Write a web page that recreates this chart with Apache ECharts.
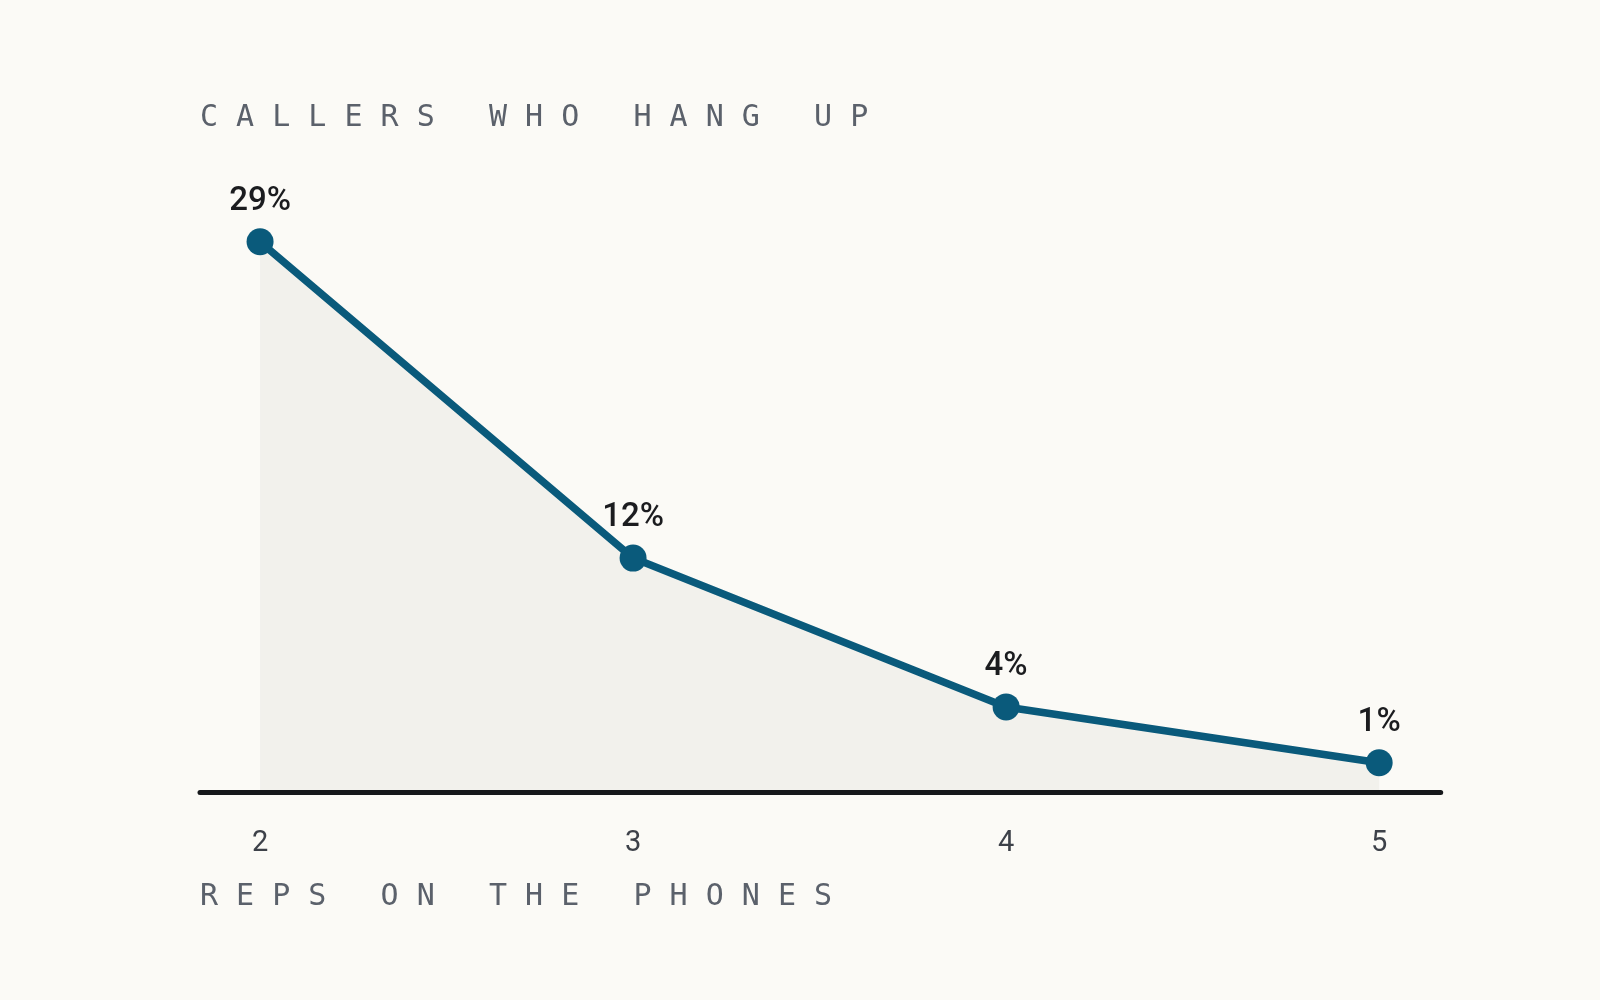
<!DOCTYPE html>
<html>
<head>
<meta charset="utf-8">
<script src="https://cdn.jsdelivr.net/npm/echarts@6/dist/echarts.min.js"></script>
<style>
html,body{margin:0;padding:0;background:#fbfaf6;}
#chart{width:1600px;height:1000px;}
</style>
</head>
<body>
<div id="chart"></div>
<script>
const reps = [2, 3, 4, 5];
const hangUpPct = [29, 12, 4, 1];
const xTickLabels = [2, 3, 4, 5];
const yTitle = 'CALLERS WHO HANG UP';
const xTitle = 'REPS ON THE PHONES';

function spaced(s) { return s.split('').join(' '); }

const chart = echarts.init(document.getElementById('chart'), null, {renderer: 'canvas'});
const lineColor = '#0a5a7b';

chart.setOption({
  backgroundColor: '#fbfaf6',
  animation: false,
  grid: {left: 200, right: 159.3, top: 223.2, bottom: 207.5},
  xAxis: {
    type: 'value',
    min: 1.839,
    max: 5.165,
    z: 3,
    splitLine: {show: false},
    axisTick: {show: false},
    axisLine: {show: true, onZero: false, lineStyle: {color: '#16181b', width: 5}},
    axisLabel: {
      customValues: xTickLabels,
      margin: 37,
      fontSize: 29,
      fontFamily: 'Roboto',
      color: '#3d4149'
    }
  },
  yAxis: {
    type: 'value',
    min: -0.6,
    max: 30,
    show: false,
    splitLine: {show: false}
  },
  graphic: [
    {
      type: 'text', left: 200, top: 103,
      style: {text: spaced(yTitle), font: '30px "DejaVu Sans Mono"', fill: '#5b616b'}
    },
    {
      type: 'text', left: 200, top: 882,
      style: {text: spaced(xTitle), font: '30px "DejaVu Sans Mono"', fill: '#5b616b'}
    }
  ],
  series: [{
    type: 'line',
    data: reps.map((r, i) => [r, hangUpPct[i]]),
    symbol: 'circle',
    symbolSize: 27,
    showSymbol: true,
    lineStyle: {color: lineColor, width: 7.5},
    itemStyle: {color: lineColor},
    areaStyle: {color: '#f2f1ec', opacity: 1, origin: 'start'},
    label: {
      show: true,
      position: 'top',
      distance: 10,
      formatter: p => p.value[1] + '%',
      fontSize: 33,
      fontWeight: 500,
      fontFamily: 'Roboto',
      color: '#1b1c1f'
    }
  }]
});
</script>
</body>
</html>
